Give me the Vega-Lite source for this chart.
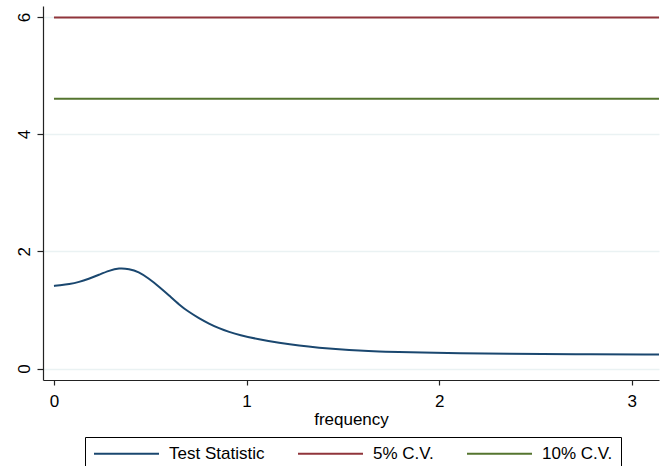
{
  "$schema": "https://vega.github.io/schema/vega-lite/v6.json",
  "width": 616,
  "height": 374,
  "autosize": "none",
  "padding": {"left": 43, "top": 6, "right": 4, "bottom": 86},
  "background": "white",
  "config": {
    "view": {"stroke": null},
    "font": "Liberation Sans",
    "axis": {"labelFont": "Liberation Sans", "titleFont": "Liberation Sans", "labelColor": "black", "titleColor": "black", "titleFontWeight": "normal", "labelFontSize": 17, "titleFontSize": 17, "domainColor": "#222", "tickColor": "#222", "domainWidth": 1.2, "tickWidth": 1.2},
    "legend": {"labelFont": "Liberation Sans", "labelFontSize": 17, "labelColor": "black"}
  },
  "data": {
    "values": [
      {"f": 0.0, "v": 1.41, "s": "Test Statistic"},
      {"f": 0.026, "v": 1.42, "s": "Test Statistic"},
      {"f": 0.08, "v": 1.44, "s": "Test Statistic"},
      {"f": 0.13, "v": 1.475, "s": "Test Statistic"},
      {"f": 0.18, "v": 1.53, "s": "Test Statistic"},
      {"f": 0.234, "v": 1.60, "s": "Test Statistic"},
      {"f": 0.286, "v": 1.67, "s": "Test Statistic"},
      {"f": 0.338, "v": 1.715, "s": "Test Statistic"},
      {"f": 0.39, "v": 1.70, "s": "Test Statistic"},
      {"f": 0.44, "v": 1.65, "s": "Test Statistic"},
      {"f": 0.49, "v": 1.54, "s": "Test Statistic"},
      {"f": 0.545, "v": 1.40, "s": "Test Statistic"},
      {"f": 0.6, "v": 1.24, "s": "Test Statistic"},
      {"f": 0.65, "v": 1.09, "s": "Test Statistic"},
      {"f": 0.70, "v": 0.965, "s": "Test Statistic"},
      {"f": 0.753, "v": 0.858, "s": "Test Statistic"},
      {"f": 0.805, "v": 0.765, "s": "Test Statistic"},
      {"f": 0.857, "v": 0.686, "s": "Test Statistic"},
      {"f": 0.91, "v": 0.623, "s": "Test Statistic"},
      {"f": 0.961, "v": 0.571, "s": "Test Statistic"},
      {"f": 1.065, "v": 0.497, "s": "Test Statistic"},
      {"f": 1.169, "v": 0.44, "s": "Test Statistic"},
      {"f": 1.273, "v": 0.39, "s": "Test Statistic"},
      {"f": 1.377, "v": 0.355, "s": "Test Statistic"},
      {"f": 1.48, "v": 0.327, "s": "Test Statistic"},
      {"f": 1.584, "v": 0.305, "s": "Test Statistic"},
      {"f": 1.688, "v": 0.291, "s": "Test Statistic"},
      {"f": 1.79, "v": 0.281, "s": "Test Statistic"},
      {"f": 1.896, "v": 0.274, "s": "Test Statistic"},
      {"f": 2.104, "v": 0.262, "s": "Test Statistic"},
      {"f": 2.35, "v": 0.251, "s": "Test Statistic"},
      {"f": 2.69, "v": 0.243, "s": "Test Statistic"},
      {"f": 3.1416, "v": 0.238, "s": "Test Statistic"},
      {"f": 0.0, "v": 5.991, "s": "5% C.V."},
      {"f": 3.1416, "v": 5.991, "s": "5% C.V."},
      {"f": 0.0, "v": 4.605, "s": "10% C.V."},
      {"f": 3.1416, "v": 4.605, "s": "10% C.V."}
    ]
  },
  "mark": {"type": "line", "strokeWidth": 2, "interpolate": "basis", "clip": true},
  "encoding": {
    "x": {
      "field": "f", "type": "quantitative", "title": "frequency",
      "scale": {"domain": [-0.057, 3.1416], "nice": false, "zero": false},
      "axis": {"values": [0, 1, 2, 3], "grid": false, "tickSize": 5, "labelPadding": 8, "titlePadding": 2, "labelFlush": false}
    },
    "y": {
      "field": "v", "type": "quantitative", "title": null,
      "scale": {"domain": [-0.196, 6.186], "nice": false, "zero": false},
      "axis": {"values": [0, 2, 4, 6], "grid": true, "gridColor": "#eaf2f3", "gridWidth": 1.5, "tickSize": 6, "labelPadding": 4, "labelAngle": -90, "labelAlign": "center", "labelBaseline": "bottom", "labelFlush": false}
    },
    "color": {
      "field": "s", "type": "nominal",
      "scale": {"domain": ["Test Statistic", "5% C.V.", "10% C.V."], "range": ["#1a476f", "#90353b", "#55752f"]},
      "legend": {
        "title": null, "orient": "none", "legendX": 42, "legendY": 431,
        "direction": "horizontal", "columns": 3, "symbolType": "M-5,0H5", "symbolSize": 169, "symbolStrokeWidth": 2,
        "symbolOffset": 25, "labelOffset": 34, "columnPadding": 29, "padding": 8, "strokeColor": "black", "fillColor": "white"
      }
    }
  }
}
